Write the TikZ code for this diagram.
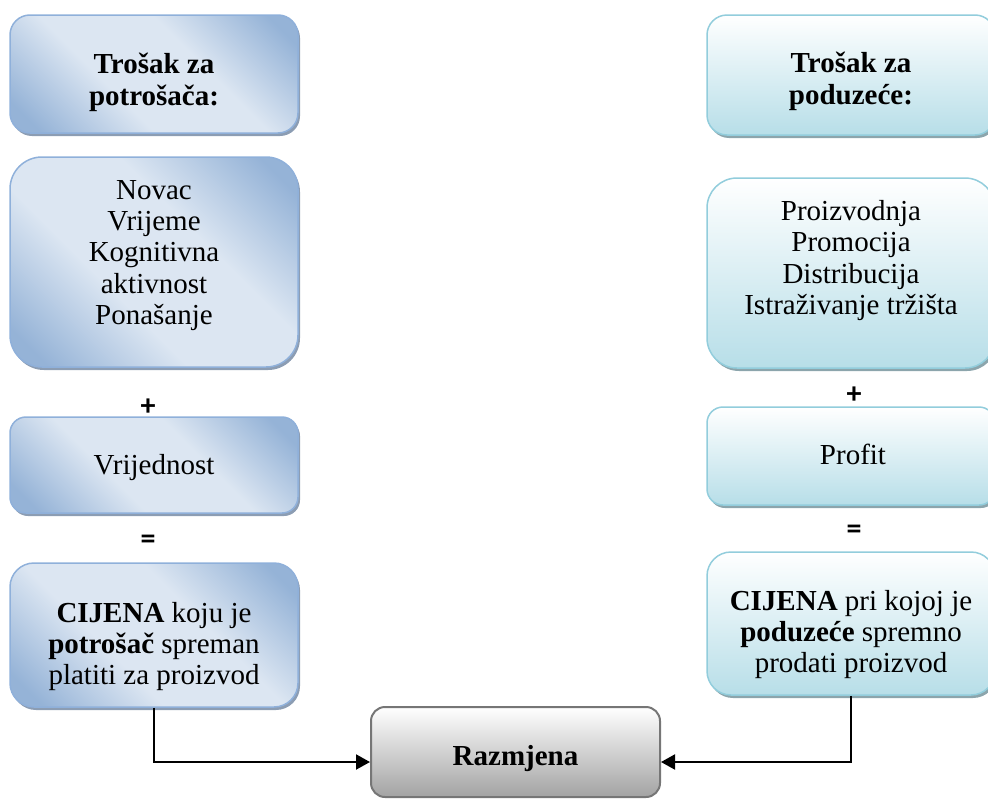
\documentclass[tikz,border=0pt]{standalone}
\usepackage{fontspec}
\setmainfont{Liberation Serif}
\newfontfamily\signfont{Carlito}
\usetikzlibrary{arrows.meta,shadows}

\definecolor{lbLight}{HTML}{DCE6F2}
\definecolor{lbDark}{HTML}{95B3D7}
\definecolor{lbBorder}{HTML}{8FB0DA}
\definecolor{lbShadow}{HTML}{8C9DB3}
\definecolor{rbDark}{HTML}{B7DEE8}
\definecolor{rbBorder}{HTML}{92CDDC}
\definecolor{rbShadow}{HTML}{8CA5AC}
\definecolor{gBorder}{HTML}{767676}
\definecolor{gDark}{HTML}{A3A3A3}

% diagonal sheen used by the consumer-side boxes
\pgfdeclarehorizontalshading{bluesheen}{100bp}{color(0bp)=(lbDark); color(20bp)=(lbDark); color(40bp)=(lbLight); color(60bp)=(lbLight); color(80bp)=(lbDark); color(100bp)=(lbDark)}

\begin{document}
\begin{tikzpicture}[x=1pt,y=-1pt,
  lbox/.style={draw=lbBorder, line width=1.5pt, shading=bluesheen, shading angle=45,
    drop shadow={shadow xshift=2pt, shadow yshift=-3pt, fill=lbShadow, opacity=1},
    inner sep=0pt, minimum width=288pt},
  rbox/.style={draw=rbBorder, line width=1.5pt, top color=white, bottom color=rbDark,
    drop shadow={shadow xshift=2pt, shadow yshift=-3pt, fill=rbShadow, opacity=1},
    inner sep=0pt, minimum width=288pt},
  gbox/.style={draw=gBorder, line width=2pt, top color=white, bottom color=gDark,
    inner sep=0pt, minimum width=289pt},
  txt/.style={font=\fontsize{29}{31.3}\selectfont, align=center, inner sep=0pt,
    execute at begin node=\strut, execute at end node=\strut},
  sign/.style={font=\signfont\bfseries\fontsize{30}{30}\selectfont, inner sep=0pt},
  conn/.style={line width=2pt, -{Triangle[length=14pt,width=15pt]}}
]
\useasboundingbox (0,0) rectangle (988,798);

% consumer column
\node[lbox, minimum height=118pt, rounded corners=20pt] (A1) at (154,74) {};
\node[lbox, minimum height=210pt, rounded corners=32pt] (A2) at (154,262) {};
\node[lbox, minimum height=96pt, rounded corners=16pt] (A3) at (154,465) {};
\node[lbox, minimum height=144pt, rounded corners=24pt] (A4) at (154,635) {};

\node[txt] (tA1) at (154,84) {\textbf{Trošak za}\\\textbf{potrošača:}};
\node[txt] (tA2) at (154,257) {Novac\\Vrijeme\\Kognitivna\\aktivnost\\Ponašanje};
\node[txt] (tA3) at (154,468) {Vrijednost};
\node[txt] (tA4) at (154,648) {\textbf{CIJENA} koju je\\\textbf{potrošač} spreman\\platiti za proizvod};

\node[sign] (plusA) at (148,407) {+};
\node[sign] (eqA) at (148,542) {=};

% company column
\node[rbox, minimum height=120pt, rounded corners=20pt] (B1) at (851,75) {};
\node[rbox, minimum height=190pt, rounded corners=30pt] (B2) at (851,273) {};
\node[rbox, minimum height=98pt, rounded corners=16pt] (B3) at (851,456) {};
\node[rbox, minimum height=143pt, rounded corners=24pt] (B4) at (851,623.5) {};

\node[txt] (tB1) at (851,83) {\textbf{Trošak za}\\\textbf{poduzeće:}};
\node[txt] (tB2) at (851,262) {Proizvodnja\\Promocija\\Distribucija\\Istraživanje tržišta};
\node[txt] (tB3) at (853,458) {Profit};
\node[txt] (tB4) at (851,636) {\textbf{CIJENA} pri kojoj je\\\textbf{poduzeće} spremno\\prodati proizvod};

\node[sign] (plusB) at (854,395) {+};
\node[sign] (eqB) at (854,532) {=};

% exchange
\node[gbox, minimum height=90pt, rounded corners=14pt] (R) at (515.5,752) {};
\node[txt] (tR) at (515.5,759) {\textbf{Razmjena}};

\draw[conn] (A4.south) |- ([yshift=-10pt]R.west);
\draw[conn] (B4.south) |- ([yshift=-10pt]R.east);
\end{tikzpicture}
\end{document}
